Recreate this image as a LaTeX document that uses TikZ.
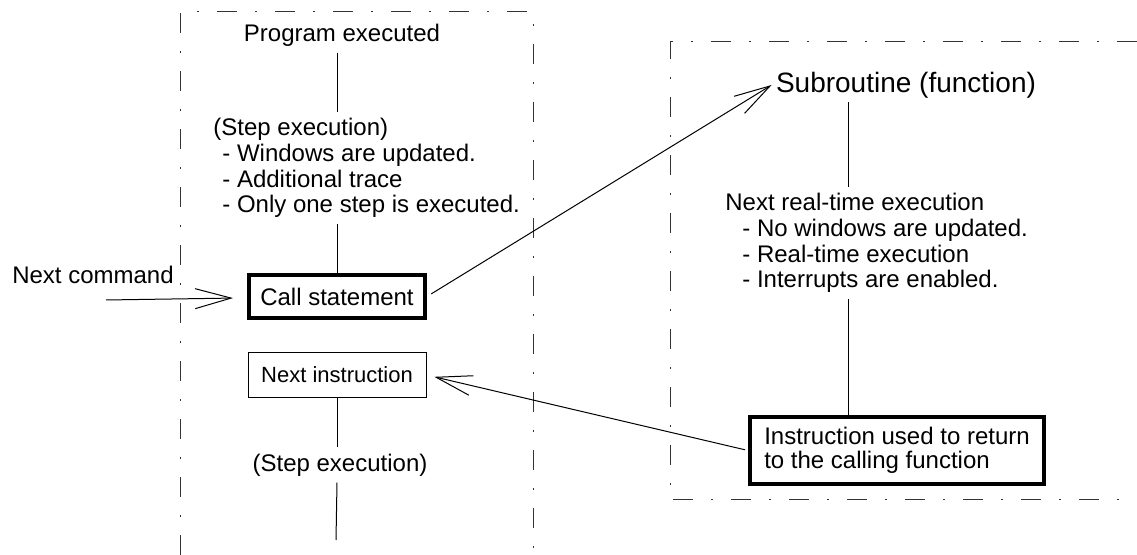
\documentclass[tikz,border=0pt]{standalone}
\usepackage{fontspec}
\setmainfont{Liberation Sans}
\usetikzlibrary{
	arrows.meta,
	positioning,
	calc
}

\begin{document}
\begin{tikzpicture}[
	x=0.5pt, y=-0.5pt,
	txt/.style={font=\fontsize{12}{12.8}\selectfont, inner sep=3pt},
	items/.style={txt, align=left, anchor=west},
	bigbox/.style={
		rectangle, draw, line width=2pt,
		minimum height=21.5pt, align=left,
		font=\fontsize{12}{12}\selectfont
	},
	smallbox/.style={
		rectangle, draw, line width=0.5pt,
		minimum width=89pt, minimum height=22.5pt,
		font=\fontsize{11}{11}\selectfont
	},
	frame/.style={draw=black!80, line width=0.5pt, dash pattern=on 10pt off 9pt on 1pt off 9pt},
	link/.style={line width=0.5pt},
	openarrow/.style={-{Straight Barb[length=18pt,width=10pt,line width=0.5pt]}, line width=0.5pt}
	]
	
	\useasboundingbox (0,0) rectangle (1137,555);
	
	% indents of the bullet lines
	\def\indl{\hspace*{4.5pt}}
	\def\indr{\hspace*{8.5pt}}
	
	% ---------------- frames ----------------
	\draw[frame] (180,555) -- (180,12) -- (533,12) -- (533,555);
	\draw[frame] (1137,42) -- (670,42) -- (670,500) -- (1137,500);
	
	% ---------------- calling program ----------------
	\node[txt] (prog) at (342,35) {Program executed};
	
	\node[items] (stepA) at (207,168) {
		(Step execution)\\\indl- Windows are updated.\\\indl- Additional trace\\\indl- Only one step is executed.
	};
	
	\node[bigbox, minimum width=88pt] (call) at (337,296.5) {Call statement};
	\draw[link] (call.north |- prog.south) -- (call.north |- stepA.north);
	\draw[link] (call.north |- stepA.south) -- (call.north);
	
	\node[txt] (nextcmd) at (93,275) {Next command};
	\coordinate (cmdstart) at (106,300);
	\draw[openarrow, shorten >=7pt] (cmdstart) -- (call);
	
	\node[smallbox, below=16pt of call] (nextinstr) {Next instruction};
	
	\node[txt] (stepB) at (340,465) {(Step execution)};
	\coordinate (leftend) at (336,540);
	\draw[link] (nextinstr.south) -- (nextinstr.south |- stepB.north);
	\draw[link] (nextinstr.south |- stepB.south) -- (leftend);
	
	% ---------------- subroutine ----------------
	\node[font=\fontsize{14}{14}\selectfont, inner sep=2pt] (sub) at (906,85) {Subroutine (function)};
	\draw[openarrow, shorten <=2.5pt] (call.east) -- (sub.west);
	
	\node[items] (rtexec) at (719,243) {
		Next real-time execution\\\indr- No windows are updated.\\\indr- Real-time execution\\\indr- Interrupts are enabled.
	};
	
	\node[bigbox, minimum width=147pt, minimum height=33.5pt] (ret) at (897,450.5) {Instruction used to return\\to the calling function};
	
	\coordinate (subaxis) at (848,0);
	\draw[link] (sub.south -| subaxis) -- (rtexec.north -| subaxis);
	\draw[link] (rtexec.south -| subaxis) -- (ret.north -| subaxis);
	
	\draw[openarrow, shorten <=1.5pt, shorten >=4pt] (ret.west) -- (nextinstr.east);
\end{tikzpicture}
\end{document}
